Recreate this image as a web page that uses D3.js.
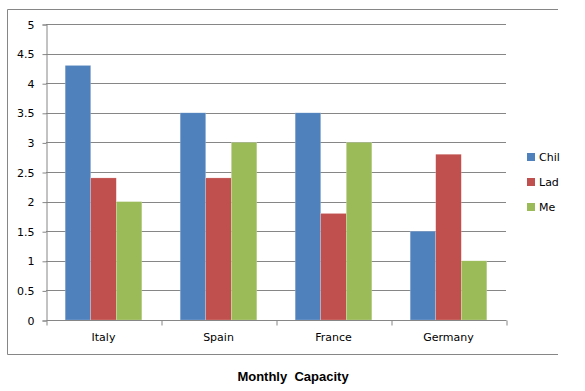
<!DOCTYPE html>
<html>
<head>
<meta charset="utf-8">
<script src="https://cdn.jsdelivr.net/npm/d3@7"></script>
<style>
  body { margin: 0; background: #fff; }
  svg { display: block; }
</style>
</head>
<body>
<svg id="chart" width="585" height="391"></svg>
<script>
// data
var countries = ['Italy', 'Spain', 'France', 'Germany'];
var seriesNames = ['Chil', 'Lad', 'Me'];
var chil = [4.3, 3.5, 3.5, 1.5];
var lad = [2.4, 2.4, 1.8, 2.8];
var me = [2, 3, 3, 1];
var yTicks = [0, 0.5, 1, 1.5, 2, 2.5, 3, 3.5, 4, 4.5, 5];
var colors = ['#4F81BD', '#C0504D', '#9BBB59'];
var title = 'Monthly  Capacity';

var seriesValues = [chil, lad, me];

var svg = d3.select('svg#chart');
var grey = '#868686';
// plot area (note: "top" is reserved on window, so use plot* names)
var plotLeft = 46, plotRight = 506, plotTop = 24, plotBottom = 320;

// chart frame (cut off on the right like the picture)
svg.append('path')
	.attr('d', 'M558,9.5 H7.5 V354.5 H558')
	.attr('fill', 'none')
	.attr('stroke', grey)
	.attr('stroke-width', 1);

var x0 = d3.scaleBand()
	.domain(countries)
	.range([plotLeft, plotRight])
	.paddingInner(0)
	.paddingOuter(0);

// bars: 3 per group, gap width 150% of a bar
var x1 = d3.scaleBand()
	.domain(d3.range(seriesNames.length))
	.range([0, x0.bandwidth()])
	.paddingInner(0)
	.paddingOuter(0.75);

var y = d3.scaleLinear()
	.domain([0, 5])
	.range([plotBottom, plotTop]);

// gridlines
svg.append('g')
	.selectAll('line')
	.data(yTicks.slice(1))
	.enter()
	.append('line')
	.attr('x1', plotLeft)
	.attr('x2', plotRight)
	.attr('y1', function (d) { return Math.round(y(d)) + 0.5; })
	.attr('y2', function (d) { return Math.round(y(d)) + 0.5; })
	.attr('stroke', grey);

// bars
var groups = svg.append('g')
	.selectAll('g')
	.data(countries)
	.enter()
	.append('g')
	.attr('transform', function (d) { return 'translate(' + x0(d) + ',0)'; });

groups.selectAll('rect')
	.data(function (d, i) {
		return seriesValues.map(function (s, j) { return { s: j, v: s[i] }; });
	})
	.enter()
	.append('rect')
	.attr('x', function (d) { return x1(d.s); })
	.attr('width', x1.bandwidth())
	.attr('y', function (d) { return y(d.v); })
	.attr('height', function (d) { return y(0) - y(d.v); })
	.attr('fill', function (d) { return colors[d.s]; })
	.attr('stroke', '#fff')
	.attr('stroke-opacity', 0.4)
	.attr('stroke-width', 0.5);

// y axis
var yAxis = d3.axisLeft(y)
	.tickValues(yTicks)
	.tickSize(4)
	.tickPadding(8)
	.tickFormat(d3.format('~g'));

var gy = svg.append('g')
	.attr('transform', 'translate(' + (plotLeft + 0.5) + ',0.5)')
	.call(yAxis);
gy.select('.domain').attr('stroke', grey);
gy.selectAll('.tick line').attr('stroke', grey);
gy.selectAll('.tick text')
	.attr('fill', '#000')
	.style('font-family', 'DejaVu Sans')
	.style('font-size', '11px');

// x axis, ticks between categories
var xAxis = d3.axisBottom(d3.scalePoint().domain(d3.range(countries.length + 1)).range([plotLeft, plotRight]))
	.tickSize(5)
	.tickFormat('');

var gx = svg.append('g')
	.attr('transform', 'translate(0.5,' + (plotBottom + 0.5) + ')')
	.call(xAxis);
gx.select('.domain').attr('stroke', grey).attr('d', 'M' + plotLeft + ',0H' + plotRight);
gx.selectAll('.tick line').attr('stroke', grey);

svg.append('g')
	.selectAll('text')
	.data(countries)
	.enter()
	.append('text')
	.attr('x', function (d) { return x0(d) + x0.bandwidth() / 2; })
	.attr('y', 341)
	.attr('text-anchor', 'middle')
	.style('font-family', 'DejaVu Sans')
	.style('font-size', '11px')
	.text(function (d) { return d; });

// legend
var legend = svg.append('g')
	.selectAll('g')
	.data(seriesNames)
	.enter()
	.append('g')
	.attr('transform', function (d, i) { return 'translate(527,' + (153 + i * 25) + ')'; });

legend.append('rect')
	.attr('width', 8)
	.attr('height', 8)
	.attr('fill', function (d, i) { return colors[i]; });

legend.append('text')
	.attr('x', 12)
	.attr('y', 8)
	.style('font-family', 'DejaVu Sans')
	.style('font-size', '11px')
	.text(function (d) { return d; });

// title
svg.append('text')
	.attr('x', 293)
	.attr('y', 381)
	.attr('text-anchor', 'middle')
	.style('font-family', 'Liberation Sans')
	.style('font-weight', 'bold')
	.style('font-size', '13px')
	.style('white-space', 'pre')
	.text(title);
</script>
</body>
</html>
